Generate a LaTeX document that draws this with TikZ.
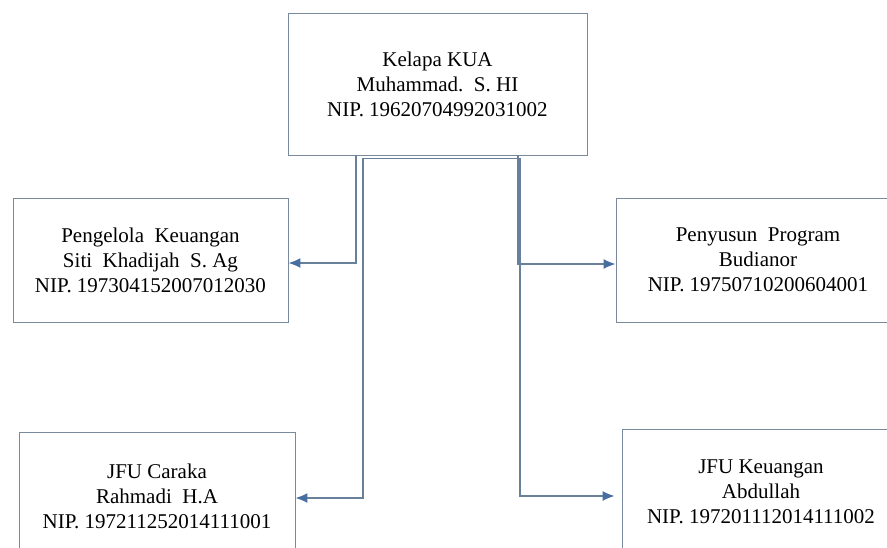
\documentclass[tikz,border=0pt]{standalone}
\usepackage{fontspec}
\setmainfont{Liberation Serif}
\newfontfamily\orgfont{Liberation Serif}
\usetikzlibrary{arrows.meta}

\definecolor{boxline}{RGB}{120,138,156}
\definecolor{connline}{RGB}{104,128,154}
\definecolor{tipblue}{RGB}{72,110,160}

\begin{document}
\begin{tikzpicture}[x=1pt,y=-1pt,
  box/.style={draw=boxline,line width=0.9pt,rectangle,align=center,inner sep=0pt,
    font=\orgfont\fontsize{21}{25}\selectfont,text=black},
  conn/.style={draw=connline,line width=1.4pt,-{Latex[color=tipblue,length=12pt,width=10pt]}}]
  \useasboundingbox (0,0) rectangle (887,547);
  \clip (0,0) rectangle (887,547);
  \node[box,minimum width=299,minimum height=142] (kua) at (437.5,84)
    {Kelapa KUA\\Muhammad.\ \ S. HI\\NIP. 19620704992031002};
  \node[box,minimum width=275,minimum height=124] (pengelola) at (150.5,260)
    {Pengelola\ \ Keuangan\\Siti\ \ Khadijah\ \ S. Ag\\NIP. 197304152007012030};
  \node[box,minimum width=284,minimum height=124] (penyusun) at (758,260)
    {Penyusun\ \ Program\\Budianor\\NIP. 19750710200604001};
  \node[box,minimum width=276,minimum height=128] (caraka) at (157,496)
    {JFU Caraka\\Rahmadi\ \ H.A\\NIP. 197211252014111001};
  \node[box,minimum width=278,minimum height=126] (keuangan) at (761,492)
    {JFU Keuangan\\Abdullah\\NIP. 197201112014111002};
  % connectors
  \coordinate (left) at ([xshift=-81.5]kua.south);
  \coordinate (right) at ([xshift=80.5]kua.south);
  \coordinate (hub) at ([xshift=-4.5,yshift=-3]kua.south);
  \path[conn] (left) |- ([yshift=-3]pengelola.east);
  \path[conn] (hub) -- ++(-70,0) |- ([yshift=-2]caraka.east);
  \path[conn] (right) |- ([yshift=-4]penyusun.west);
  \path[conn,shorten >=7pt] (hub) -- ++(87,0) |- ([yshift=-4]keuangan.west);
\end{tikzpicture}
\end{document}
